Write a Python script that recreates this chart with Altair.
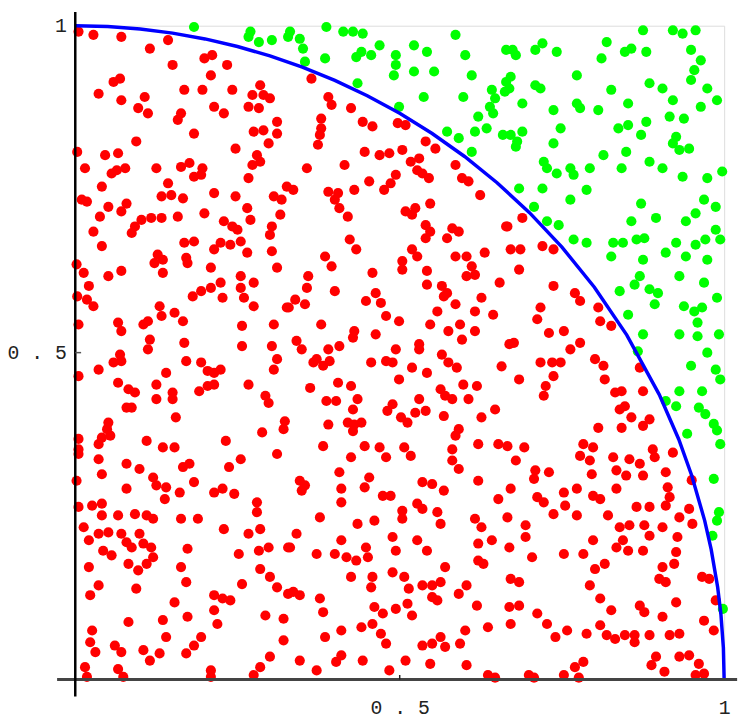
import altair as alt
import pandas as pd

# Points inside the quarter circle (red)
red = [
    (.005,.991),(.028,.986),(.071,.983),(.143,.978),(.115,.965),(.150,.940),(.199,.950),(.211,.955),
    (.234,.940),(.209,.924),(.069,.919),(.059,.914),(.036,.896),(.071,.886),(.107,.891),(.097,.874),
    (.112,.866),(.168,.902),(.196,.902),(.242,.902),(.285,.909),(.290,.894),(.273,.894),(.267,.876),
    (.283,.874),(.300,.889),(.214,.876),(.229,.866),(.163,.866),(.158,.856),(.183,.835),(.275,.838),
    (.290,.840),(.311,.853),(.311,.835),(.298,.820),(.094,.823),(.247,.812),(.003,.807),(.046,.802),
    (.066,.805),(.064,.779),(.077,.782),(.056,.774),(.015,.782),(.125,.782),(.163,.784),(.176,.790),
    (.183,.769),(.196,.782),(.194,.772),(.280,.802),(.273,.787),(.285,.792),(.267,.767),(.326,.754),
    (.041,.754),(.143,.759),(.133,.739),(.148,.741),(.166,.736),(.214,.744),(.247,.739),(.265,.721),
    (.010,.734),(.018,.731),(.306,.739),(.318,.734),(.051,.723),(.079,.728),(.071,.716),(.038,.708),
    (.102,.703),(.117,.706),(.133,.706),(.092,.693),(.087,.683),(.158,.708),(.199,.713),(.229,.701),
    (.242,.693),(.250,.688),(.270,.703),(.316,.711),(.303,.693),(.300,.680),(.028,.685),
    (.364,.919),(.390,.891),(.395,.879),(.425,.874),(.379,.858),(.379,.843),(.377,.833),(.374,.818),
    (.443,.853),(.458,.846),(.497,.851),(.509,.848),(.540,.823),(.555,.812),(.446,.807),(.469,.802),
    (.484,.805),(.504,.810),(.517,.792),(.530,.797),(.527,.779),(.545,.767),(.535,.774),(.415,.787),
    (.357,.782),(.586,.787),(.596,.767),(.606,.762),(.336,.749),(.390,.746),(.405,.744),(.400,.734),
    (.407,.721),(.430,.749),(.453,.762),(.494,.772),(.486,.759),(.476,.749),(.420,.708),(.547,.728),
    (.509,.716),(.519,.711),(.524,.721),(.540,.695),(.547,.685),(.581,.690),(.591,.685),(.624,.741),
    (.664,.693),(.689,.706),(.666,.693),
    (.041,.663),(.002,.635),(.013,.622),(.021,.602),(.003,.586),(.018,.581),(.028,.571),(.051,.617),
    (.071,.625),(.127,.650),(.135,.642),(.122,.637),(.135,.622),(.168,.668),(.183,.670),(.171,.645),
    (.173,.637),(.209,.630),(.214,.658),(.224,.668),(.239,.665),(.255,.670),(.265,.653),(.303,.655),
    (.311,.630),(.255,.617),(.255,.599),(.275,.607),(.260,.584),(.275,.571),(.224,.607),(.209,.599),
    (.194,.594),(.181,.586),(.227,.584),(.326,.569),(.130,.571),(.133,.556),(.112,.548),(.105,.543),
    (.153,.561),(.166,.548),(.066,.546),(.071,.533),(.005,.543),(.257,.541),(.306,.543),(.257,.510),
    (.303,.510),(.311,.490),(.306,.474),(.168,.515),(.171,.487),(.194,.485),(.204,.472),(.214,.469),
    (.224,.474),(.115,.520),(.112,.505),(.069,.497),(.071,.487),(.059,.485),(.036,.474),(.005,.464),
    (.140,.469),(.066,.454),(.082,.444),(.092,.439),(.125,.451),(.125,.429),(.150,.439),(.150,.429),
    (.191,.441),(.204,.449),(.214,.451),(.267,.451),(.293,.434),(.298,.423),(.079,.416),(.087,.416),
    (.155,.401),(.051,.393),(.049,.383),(.041,.370),(.054,.373),(.036,.360),(.005,.368),(.005,.352),
    (.005,.345),(.153,.355),(.110,.365),(.135,.355),(.232,.365),(.288,.378),(.323,.395),(.321,.383),
    (.423,.673),(.433,.658),(.540,.675),(.573,.675),(.385,.647),(.395,.632),(.359,.617),(.357,.599),
    (.400,.594),(.458,.622),(.519,.658),(.527,.647),(.504,.640),(.504,.627),(.542,.625),(.542,.604),
    (.565,.602),(.573,.591),(.568,.586),(.586,.647),(.603,.647),(.611,.632),(.603,.617),(.616,.619),
    (.631,.653),(.654,.607),(.626,.584),(.586,.574),(.616,.563),(.644,.558),(.558,.563),(.547,.543),
    (.575,.533),(.593,.543),(.596,.520),(.616,.533),(.339,.581),(.354,.574),(.329,.569),(.448,.579),
    (.463,.591),(.471,.576),(.479,.556),(.499,.548),(.379,.543),(.430,.533),(.428,.523),(.463,.528),
    (.341,.518),(.349,.505),(.390,.505),(.407,.510),(.372,.490),(.382,.480),(.367,.485),(.392,.487),
    (.456,.485),(.479,.487),(.494,.505),(.489,.485),(.530,.513),(.530,.505),(.565,.497),(.575,.485),
    (.588,.477),(.519,.477),(.542,.469),(.499,.459),(.657,.479),(.362,.446),(.405,.454),(.425,.449),
    (.387,.426),(.402,.426),(.435,.429),(.428,.413),(.563,.444),(.570,.434),(.581,.429),(.598,.451),
    (.619,.449),(.606,.429),(.481,.411),(.489,.421),(.502,.401),(.512,.393),(.524,.408),(.530,.429),
    (.540,.411),(.568,.403),(.626,.401),(.647,.413),(.390,.390),(.420,.393),(.430,.390),(.441,.393),
    (.428,.380),(.382,.357),(.446,.357),(.469,.355),(.507,.355),(.586,.373),(.591,.383),(.581,.352),
    (.621,.360),(.652,.360),
    (.671,.658),(.686,.658),(.720,.663),(.737,.658),(.684,.627),(.737,.602),(.770,.591),(.778,.579),
    (.717,.569),(.712,.551),(.730,.530),(.753,.533),(.806,.569),(.809,.548),(.826,.541),(.669,.513),
    (.676,.515),(.763,.505),(.778,.515),(.717,.485),(.735,.485),(.748,.485),(.737,.464),(.725,.449),
    (.722,.434),(.684,.459),(.801,.490),(.814,.480),(.816,.459),(.870,.477),(.832,.439),(.842,.441),
    (.875,.441),(.847,.418),(.839,.413),(.857,.401),(.842,.385),(.806,.385),(.875,.388),(.885,.398),
    (.666,.357),(.692,.355),(.783,.360),(.798,.355),(.890,.352),(.921,.347),
    (.036,.337),(.041,.314),(.079,.330),(.099,.322),(.120,.309),(.125,.297),(.140,.294),(.138,.276),
    (.161,.286),(.166,.325),(.176,.330),(.183,.302),(.237,.325),(.255,.337),(.311,.345),(.002,.304),
    (.079,.292),(.214,.286),(.227,.292),(.245,.284),(.005,.264),(.026,.266),(.041,.269),(.041,.251),
    (.066,.251),(.092,.253),(.110,.251),(.120,.246),(.163,.246),(.189,.246),(.013,.233),(.021,.213),
    (.036,.223),(.051,.225),(.071,.223),(.079,.210),(.087,.202),(.099,.223),(.105,.208),(.117,.202),
    (.120,.187),(.110,.177),(.097,.167),(.082,.177),(.043,.197),(.056,.190),(.021,.172),(.229,.230),
    (.267,.223),(.285,.230),(.280,.271),(.280,.256),(.173,.200),(.163,.172),(.171,.149),(.252,.192),
    (.283,.197),(.298,.202),(.328,.202),(.285,.169),(.300,.157),(.311,.141),(.328,.131),(.257,.146),
    (.036,.144),(.023,.129),(.094,.139),(.153,.118),(.214,.129),(.227,.124),(.239,.121),(.214,.106),
    (.219,.085),(.293,.098),(.321,.093),(.321,.060),(.173,.096),(.135,.091),(.140,.065),(.082,.088),
    (.026,.075),(.023,.057),(.031,.042),(.061,.052),(.071,.042),(.105,.045),(.115,.029),(.130,.040),
    (.171,.040),(.183,.052),(.194,.065),(.015,.019),(.018,.004),(.066,.016),(.074,.004),(.209,.014),
    (.209,.004),(.275,.007),(.285,.019),(.300,.035),
    (.425,.340),(.479,.340),(.517,.342),(.581,.335),(.591,.322),(.346,.304),(.349,.289),(.354,.297),
    (.407,.317),(.410,.292),(.410,.271),(.446,.294),(.453,.309),(.474,.281),(.486,.281),(.535,.302),
    (.550,.299),(.568,.289),(.621,.304),(.652,.276),(.504,.258),(.527,.269),(.535,.261),(.504,.246),
    (.558,.256),(.563,.238),(.377,.248),(.435,.238),(.461,.243),(.616,.246),(.626,.233),(.341,.223),
    (.331,.202),(.372,.192),(.410,.213),(.400,.192),(.418,.187),(.433,.182),(.448,.202),(.451,.187),
    (.489,.218),(.494,.197),(.527,.213),(.542,.197),(.621,.208),(.642,.213),(.621,.182),(.629,.177),
    (.570,.172),(.425,.157),(.458,.157),(.456,.141),(.489,.164),(.507,.157),(.514,.139),(.535,.144),
    (.550,.144),(.563,.149),(.558,.121),(.550,.126),(.591,.131),(.603,.144),(.619,.113),(.336,.134),
    (.346,.129),(.377,.124),(.382,.103),(.461,.111),(.474,.101),(.494,.108),(.512,.116),(.519,.098),
    (.441,.080),(.458,.085),(.471,.070),(.479,.055),(.410,.075),(.385,.065),(.601,.075),(.636,.080),
    (.535,.052),(.550,.055),(.563,.065),(.570,.050),(.593,.055),(.346,.029),(.372,.014),(.402,.027),
    (.410,.037),(.443,.029),(.484,.014),(.509,.029),(.547,.024),(.603,.022),(.636,.007),(.647,.003),
    (.679,.335),(.778,.342),(.793,.335),(.796,.314),(.829,.340),(.854,.337),(.870,.330),(.834,.320),
    (.849,.312),(.875,.312),(.893,.340),(.910,.317),(.913,.294),(.916,.279),(.910,.266),(.709,.320),
    (.707,.307),(.730,.317),(.671,.292),(.712,.279),(.722,.271),(.753,.286),(.773,.292),(.755,.266),
    (.737,.253),(.773,.251),(.798,.281),(.809,.276),(.834,.292),(.821,.251),(.865,.264),(.885,.264),
    (.666,.248),(.694,.236),(.694,.218),(.669,.202),(.704,.187),(.753,.192),(.783,.192),(.798,.213),
    (.839,.233),(.854,.236),(.877,.236),(.885,.220),(.875,.197),(.834,.202),(.852,.197),(.844,.213),
    (.905,.233),(.931,.248),(.946,.261),(.951,.238),(.928,.218),(.926,.195),(.923,.177),(.905,.172),
    (.900,.154),(.910,.149),(.801,.169),(.816,.177),(.793,.144),(.809,.124),(.826,.106),(.870,.113),
    (.877,.103),(.905,.096),(.926,.118),(.966,.157),(.977,.154),(.950,.305),(.987,.121),(.969,.090),
    (.984,.075),(.671,.154),(.684,.149),(.669,.111),(.684,.113),(.712,.101),(.727,.085),(.740,.065),
    (.758,.075),(.788,.070),(.809,.083),(.819,.068),(.832,.062),(.847,.068),(.862,.068),(.862,.057),
    (.885,.068),(.916,.068),(.931,.070),(.671,.085),(.783,.027),(.770,.019),(.776,.003),(.753,.007),
    (.699,.007),(.707,.003),(.895,.035),(.888,.022),(.908,.012),(.931,.035),(.946,.037),(.961,.024),
    (.969,.009),(.956,.007),
]

# Points outside the quarter circle (green)
green = [
    (.183,.998),(.267,.983),(.283,.975),(.303,.978),(.328,.983),(.270,.991),
    (.331,.991),(.346,.980),(.351,.965),(.354,.945),(.387,.998),(.413,.991),(.428,.991),(.443,.988),
    (.385,.950),(.433,.952),(.441,.960),(.456,.955),(.469,.970),(.494,.955),(.494,.940),(.491,.924),
    (.522,.970),(.542,.960),(.522,.930),(.553,.930),(.586,.986),(.601,.955),(.611,.924),(.664,.963),
    (.664,.914),(.662,.899),(.642,.902),(.647,.889),(.639,.876),(.644,.866),(.621,.861),(.616,.838),
    (.634,.843),(.659,.833),(.598,.891),(.537,.891),(.499,.876),(.435,.912),(.573,.838),(.591,.828),
    (.611,.807),
    (.875,.993),(.921,.993),(.936,.988),(.956,.993),(.674,.963),(.679,.955),(.709,.963),(.720,.973),
    (.742,.960),(.819,.975),(.811,.950),(.847,.960),(.857,.965),(.880,.960),(.949,.963),(.964,.947),
    (.954,.932),(.949,.917),(.671,.922),(.669,.904),(.709,.909),(.717,.904),(.773,.924),(.826,.902),
    (.885,.912),(.905,.904),(.921,.886),(.974,.904),(.989,.886),(.964,.876),(.689,.881),(.737,.871),
    (.773,.881),(.778,.874),(.806,.871),(.852,.881),(.916,.861),(.938,.858),(.880,.853),(.872,.833),
    (.837,.843),(.852,.848),(.748,.843),(.737,.820),(.671,.833),(.681,.823),(.689,.838),(.679,.815),
    (.926,.830),(.921,.820),(.931,.810),(.946,.812),(.814,.802),(.849,.807),(.842,.782),(.885,.792),
    (.905,.782),(.722,.792),(.727,.782),(.742,.774),(.763,.782),(.768,.772),(.793,.782),(.936,.769),
    (.974,.767),(.997,.777),(.684,.751),(.720,.751),(.788,.749),(.763,.734),(.872,.728),(.969,.734),
    (.987,.723),(.956,.713),(.941,.701),(.895,.706),(.857,.701),(.707,.723),(.727,.701),(.745,.695),
    (.987,.688),
    (.768,.673),(.788,.668),(.829,.668),(.844,.668),(.865,.673),(.877,.675),(.910,.653),(.926,.668),
    (.941,.647),(.956,.665),(.971,.673),(.974,.642),(.994,.673),(.826,.647),(.875,.642),(.870,.617),
    (.862,.604),(.839,.594),(.885,.597),(.898,.591),(.893,.574),(.931,.617),(.969,.607),(.989,.584),
    (.938,.571),(.954,.563),(.966,.569),(.959,.546),(.959,.525),(.931,.528),(.992,.528),(.875,.528),
    (.852,.558),(.867,.502),(.974,.500),(.949,.480),(.987,.474),(.994,.459),(.931,.441),(.966,.441),
    (.910,.426),(.926,.418),(.961,.416),(.971,.406),(.984,.391),(.989,.381),(.943,.376),(.994,.360),
    (.984,.307),(.992,.256),(.989,.243),(.982,.220),(.998,.108),
]

# Quarter circle of radius 1, read along its length
arc_x = [0, .05, .10, .15, .20, .25, .30, .35, .40, .45, .50, .55, .60, .65, .70,
         .75, .80, .85, .90, .93, .95, .97, .98, .99, .995, .9988, 1]
arc_y = [1, .9987, .9950, .9887, .9798, .9682, .9539, .9367, .9165, .8930, .8660,
         .8352, .8000, .7599, .7141, .6614, .6000, .5268, .4359, .3676, .3122,
         .2431, .1990, .1411, .0999, .0490, 0]

tick_values = [0.5, 1]

pts = pd.DataFrame(
    [(x, y, "inside") for x, y in red] + [(x, y, "outside") for x, y in green],
    columns=["x", "y", "region"],
)
arc = pd.DataFrame({"x": arc_x, "y": arc_y, "i": list(range(len(arc_x)))})

xscale = alt.Scale(domain=[0, 1], nice=False, zero=False)
yscale = alt.Scale(domain=[0, 1], nice=False, zero=False)

label_expr = "datum.value == 0.5 ? '0 . 5' : (datum.value == 1 ? '1' : '')"

xaxis = alt.Axis(values=tick_values, labelExpr=label_expr, domain=False, ticks=False,
                 tickSize=0, grid=False, title=None, labelFont="Liberation Mono",
                 labelFontSize=20, labelColor="#222", labelPadding=18, labelFlush=False)
yaxis = alt.Axis(values=tick_values, labelExpr=label_expr, domain=False, ticks=False,
                 tickSize=0, grid=False, title=None, labelFont="Liberation Mono",
                 labelFontSize=20, labelColor="#222", labelPadding=9, labelFlush=False)

points = alt.Chart(pts).mark_circle(size=105, opacity=1).encode(
    x=alt.X("x:Q", scale=xscale, axis=xaxis),
    y=alt.Y("y:Q", scale=yscale, axis=yaxis),
    color=alt.Color("region:N",
                    scale=alt.Scale(domain=["inside", "outside"], range=["#ff0000", "#00ff00"]),
                    legend=None),
)

curve = alt.Chart(arc).mark_line(color="#0000ff", strokeWidth=3.5).encode(
    x=alt.X("x:Q", scale=xscale),
    y=alt.Y("y:Q", scale=yscale),
    order="i:Q",
)

xline = alt.Chart(pd.DataFrame({"x": [-0.028], "x2": [1.02], "y": [0]})).mark_rule(
    color="#444", strokeWidth=3).encode(
    x=alt.X("x:Q", scale=xscale), x2="x2:Q", y=alt.Y("y:Q", scale=yscale))

yline = alt.Chart(pd.DataFrame({"x": [0], "y": [-0.026], "y2": [1.021]})).mark_rule(
    color="#000", strokeWidth=2.5).encode(
    x=alt.X("x:Q", scale=xscale), y=alt.Y("y:Q", scale=yscale), y2="y2:Q")

yt = alt.Chart(pd.DataFrame({"x": [0], "x2": [0.009], "y": [0.5]})).mark_rule(
    color="#555", strokeWidth=1.5).encode(
    x=alt.X("x:Q", scale=xscale), x2="x2:Q", y=alt.Y("y:Q", scale=yscale))
xt = alt.Chart(pd.DataFrame({"x": [0.5], "y": [0], "y2": [0.007]})).mark_rule(
    color="#222", strokeWidth=1.5).encode(
    x=alt.X("x:Q", scale=xscale), y=alt.Y("y:Q", scale=yscale), y2="y2:Q")

chart = alt.layer(points, curve, xline, yline, yt, xt).properties(
    width=656, height=661,
    autosize=alt.AutoSizeParams(type="none"),
    padding={"left": 68, "top": 14, "right": 14, "bottom": 39},
).configure_view(stroke="#555", strokeWidth=2.5).configure(background="white")

chart.save("out.html", embed_options={"renderer": "svg", "actions": False})
